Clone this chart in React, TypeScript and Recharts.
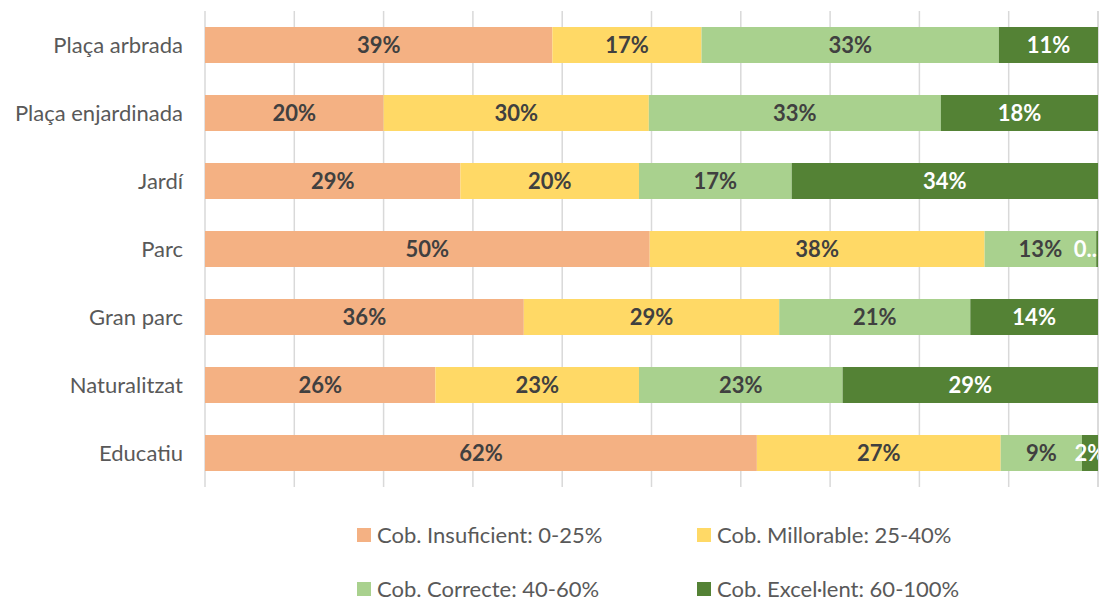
import { BarChart, Bar, XAxis, YAxis, CartesianGrid, LabelList } from 'recharts';

const categories = ['Plaça arbrada', 'Plaça enjardinada', 'Jardí', 'Parc', 'Gran parc', 'Naturalitzat', 'Educatiu'];

// share of each coverage band per category (%)
const insuficient = [38.9, 20.0, 28.6, 49.8, 35.7, 25.8, 61.8];
const millorable = [16.7, 29.7, 20.0, 37.5, 28.6, 22.8, 27.3];
const correcte = [33.3, 32.7, 17.1, 12.5, 21.4, 22.8, 9.1];
const excellent = [11.1, 17.6, 34.3, 0.2, 14.3, 28.6, 1.8];

const seriesNames = ['Cob. Insuficient: 0-25%', 'Cob. Millorable: 25-40%', 'Cob. Correcte: 40-60%', 'Cob. Excel·lent: 60-100%'];
const seriesKeys = ['insuficient', 'millorable', 'correcte', 'excellent'];
const xTicks = [0, 10, 20, 30, 40, 50, 60, 70, 80, 90, 100];

const COLORS = ['#F4B183', '#FFD966', '#A9D18E', '#548235'];
const LABEL_COLORS = ['#404040', '#404040', '#404040', '#FFFFFF'];

const data = categories.map((name, i) => ({
  name,
  insuficient: insuficient[i],
  millorable: millorable[i],
  correcte: correcte[i],
  excellent: excellent[i],
}));

const FONT = 'Lato, "Open Sans", sans-serif';
const PLOT_RIGHT = 1098;

const makeLabel = (color: string) => (props: any) => {
  const { x, y, width, height, value } = props;
  if (value == null) return null;
  const cy = y + height / 2;
  // tiny segments: Excel squeezes the label against the edge and truncates it
  if (value < 1) {
    return (
      <text x={PLOT_RIGHT - 1} y={cy} dy={8} textAnchor="end" fill={color} fontSize={22} fontWeight={700} fontFamily={FONT}>
        0..
      </text>
    );
  }
  return (
    <text x={x + width / 2} y={cy} dy={8} textAnchor="middle" fill={color} fontSize={22} fontWeight={700} fontFamily={FONT} clipPath="url(#plotClip)">
      {`${Math.round(value)}%`}
    </text>
  );
};

const CategoryTick = (props: any) => {
  const { y, payload } = props;
  return (
    <text x={183} y={y} dy={8} textAnchor="end" fill="#595959" fontSize={22} fontFamily={FONT}>
      {payload.value}
    </text>
  );
};

const legendPos = [
  { left: 357, top: 525 },
  { left: 697, top: 525 },
  { left: 357, top: 579 },
  { left: 697, top: 579 },
];

export default function App() {
  return (
    <div style={{ position: 'absolute', left: 0, top: 0, width: 1100, height: 599, background: '#fff', overflow: 'hidden' }}>
      <BarChart
        width={1100}
        height={599}
        data={data}
        layout="vertical"
        margin={{ top: 11, right: 2, left: 0, bottom: 112 }}
        barSize={36}
      >
        <defs>
          <clipPath id="plotClip">
            <rect x={205} y={0} width={PLOT_RIGHT - 205} height={599} />
          </clipPath>
        </defs>
        <CartesianGrid horizontal={false} stroke="#D9D9D9" strokeWidth={1.5} />
        <XAxis type="number" domain={[0, 100]} ticks={xTicks} tick={() => <g />} axisLine={false} tickLine={false} height={0} />
        <YAxis type="category" dataKey="name" width={205} axisLine={false} tickLine={false} tick={<CategoryTick />} />
        {seriesKeys.map((key, i) => (
          <Bar key={key} dataKey={key} name={seriesNames[i]} stackId="a" fill={COLORS[i]} isAnimationActive={false}>
            <LabelList dataKey={key} content={makeLabel(LABEL_COLORS[i])} />
          </Bar>
        ))}
      </BarChart>
      {seriesNames.map((name, i) => (
        <div
          key={name}
          style={{
            position: 'absolute',
            left: legendPos[i].left,
            top: legendPos[i].top,
            display: 'flex',
            alignItems: 'center',
            color: '#595959',
            fontSize: 22,
            lineHeight: '19px',
            fontFamily: FONT,
            whiteSpace: 'nowrap',
          }}
        >
          <span style={{ display: 'inline-block', width: 14, height: 14, background: COLORS[i], marginRight: 6 }} />
          {name}
        </div>
      ))}
    </div>
  );
}
